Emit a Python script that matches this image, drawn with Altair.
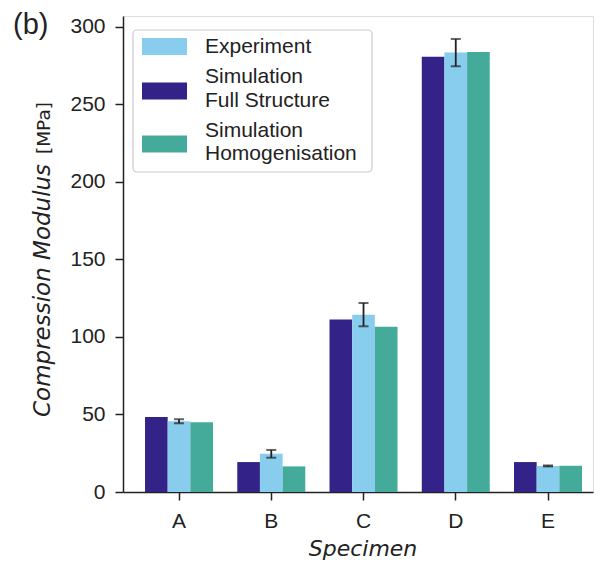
import altair as alt
import pandas as pd

specimens = ["A", "B", "C", "D", "E"]
full_structure = [48.3, 19.3, 111.2, 280.5, 19.3]
experiment = [45.6, 24.6, 114.3, 283.2, 16.8]
experiment_err = [1.3, 2.5, 7.5, 8.8, 0.3]
homogenisation = [44.9, 16.5, 106.5, 283.6, 16.9]

name_exp = "Experiment"
name_full = "Simulation\nFull Structure"
name_hom = "Simulation\nHomogenisation"
legend_order = [name_exp, name_full, name_hom]
bar_order = [name_full, name_exp, name_hom]
colors = ["#88CCEE", "#332288", "#44AA99"]
y_ticks = [0, 50, 100, 150, 200, 250, 300]
panel_label = "(b)"
y_title_main = "Compression Modulus"
y_title_unit = "[MPa]"
x_title = "Specimen"

rows = []
for s, f, e, h in zip(specimens, full_structure, experiment, homogenisation):
    rows.append({"specimen": s, "series": name_full, "value": f})
    rows.append({"specimen": s, "series": name_exp, "value": e})
    rows.append({"specimen": s, "series": name_hom, "value": h})
df = pd.DataFrame(rows)

err_df = pd.DataFrame({
    "specimen": specimens,
    "series": [name_exp] * len(specimens),
    "lo": [v - d for v, d in zip(experiment, experiment_err)],
    "hi": [v + d for v, d in zip(experiment, experiment_err)],
})

TXT = "#222222"
TICK_FONT = "Liberation Sans"
TITLE_FONT = "DejaVu Sans"
W, H = 470, 476

x_enc = alt.X(
    "specimen:N",
    sort=specimens,
    scale=alt.Scale(paddingInner=0.263, paddingOuter=0.179, align=0.667),
    axis=alt.Axis(
        labelAngle=0, labelFont=TICK_FONT, labelFontSize=21, labelColor=TXT,
        tickSize=8, tickWidth=1.5, tickColor=TXT, domainColor=TXT, domainWidth=1.5,
        labelPadding=10, title=None,
    ),
)
xoff_enc = alt.XOffset("series:N", scale=alt.Scale(domain=bar_order, paddingInner=0, paddingOuter=0))
y_scale = alt.Scale(domain=[0, 306.8], nice=False, zero=True)

bars = alt.Chart(df).mark_bar().encode(
    x=x_enc,
    xOffset=xoff_enc,
    y=alt.Y(
        "value:Q",
        scale=y_scale,
        axis=alt.Axis(
            values=y_ticks, labelFont=TICK_FONT, labelFontSize=21, labelColor=TXT,
            tickSize=8, tickWidth=1.5, tickColor=TXT, domainColor=TXT, domainWidth=1.5,
            labelPadding=10, grid=False, title=None,
        ),
    ),
    color=alt.Color("series:N", scale=alt.Scale(domain=legend_order, range=colors), legend=None),
)

err_rule = alt.Chart(err_df).mark_rule(color=TXT, strokeWidth=1.8).encode(
    x=alt.X("specimen:N", sort=specimens),
    xOffset=xoff_enc,
    y=alt.Y("lo:Q", scale=y_scale),
    y2="hi:Q",
)
cap_hi = alt.Chart(err_df).mark_tick(color=TXT, size=10, thickness=2).encode(
    x=alt.X("specimen:N", sort=specimens),
    xOffset=xoff_enc,
    y=alt.Y("hi:Q", scale=y_scale),
)
cap_lo = alt.Chart(err_df).mark_tick(color=TXT, size=10, thickness=2).encode(
    x=alt.X("specimen:N", sort=specimens),
    xOffset=xoff_enc,
    y=alt.Y("lo:Q", scale=y_scale),
)

one = pd.DataFrame({"k": [0]})

def label(text, **kw):
    return alt.Chart(pd.DataFrame({"t": [text]})).mark_text(**kw)

panel = label(panel_label, font=TICK_FONT, fontSize=29, color=TXT, align="left",
              baseline="middle").encode(text="t:N", x=alt.value(-110), y=alt.value(8.5))

yt1 = label(y_title_main, font=TITLE_FONT, fontSize=23, fontStyle="italic", color=TXT,
            align="left", baseline="middle", angle=270).encode(
    text="t:N", x=alt.value(-80), y=alt.value(401))
yt2 = label(y_title_unit, font=TITLE_FONT, fontSize=18.5, color=TXT,
            align="right", baseline="middle", angle=270).encode(
    text="t:N", x=alt.value(-79), y=alt.value(86))
xt = label(x_title, font=TITLE_FONT, fontSize=22, fontStyle="italic", color=TXT,
           align="center", baseline="alphabetic").encode(
    text="t:N", x=alt.value(240), y=alt.value(540))

# legend drawn by hand
legend_box = alt.Chart(one).mark_rect(
    fill="white", stroke="#cccccc", strokeWidth=1.2, cornerRadius=4
).encode(x=alt.value(10), x2=alt.value(249), y=alt.value(14), y2=alt.value(156))

sym_centers = [30.5, 75, 128]
text_first_line = [31.3, 61.3, 114.7]
legend_layers = [legend_box]
for name, col, yc, yt in zip(legend_order, colors, sym_centers, text_first_line):
    legend_layers.append(
        alt.Chart(one).mark_rect(color=col).encode(
            x=alt.value(19), x2=alt.value(64), y=alt.value(yc - 8.5), y2=alt.value(yc + 8.5)
        )
    )
    legend_layers.append(
        label(name, font=TICK_FONT, fontSize=21, color=TXT, align="left", baseline="middle",
              lineBreak="\n", lineHeight=23.5).encode(
            text="t:N", x=alt.value(82), y=alt.value(yt))
    )

chart = alt.layer(bars, err_rule, cap_hi, cap_lo, panel, yt1, yt2, xt, *legend_layers).properties(
    width=W, height=H,
    autosize=alt.AutoSizeParams(type="none"),
    padding={"left": 115, "top": 8, "right": 2, "bottom": 69},
).configure_view(stroke=TXT, strokeWidth=1.5).configure(background="white")

chart.save("out.html", embed_options={"renderer": "svg", "actions": False})
